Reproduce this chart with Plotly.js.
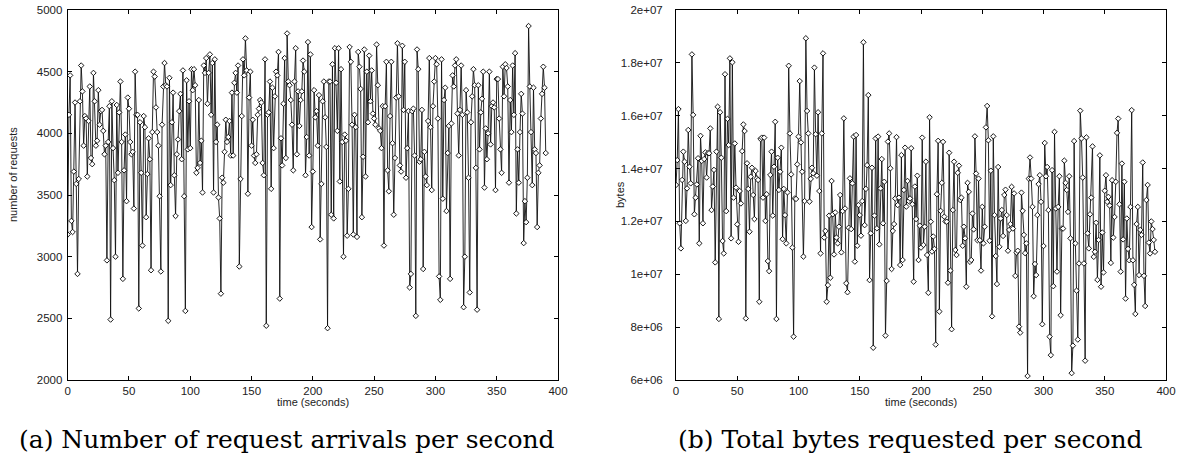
<!DOCTYPE html>
<html><head><meta charset="utf-8">
<script src="https://cdn.plot.ly/plotly-3.0.1.min.js"></script>
<style>html,body{margin:0;padding:0;background:#fff}#chart{width:1181px;height:453px}</style>
</head><body><div id="chart"></div>
<script>
// (a) number of request arrivals per second, one value per second from t = 0
const requests = [
3180,4150,4470,3290,3200,3690,4250,3590,2860,3630,
4260,4550,4340,3900,4140,4120,3650,4100,4380,3800,
3750,4490,4260,3900,3940,4350,4070,4180,4190,4020,
3830,3900,2970,3930,4220,2490,4260,3880,3620,3000,
4230,3680,4170,4420,3930,2820,3700,3990,3450,4290,
4200,3930,3830,3850,3390,4500,4150,4150,2580,4090,
3680,3090,4140,4050,3320,3670,3960,3790,2890,4010,
4500,4460,4210,4010,3900,3490,2880,4070,4380,4570,
4390,4380,2480,4450,3580,4090,4330,3660,3330,3830,
3950,4180,4320,3790,4510,3490,2560,4430,3870,4260,
3880,4520,
4350,4520,4390,3680,3720,4270,3760,3940,3520,4550,
4490,4610,4240,4490,4640,4150,4570,3520,4600,3930,
4070,3480,3310,2700,3640,3600,3850,4110,3930,3970,
4100,3820,4330,3820,4410,4490,4330,4550,2920,3630,
4140,4600,4470,4770,4510,3510,4290,4500,3900,4110,
3820,3760,3830,4150,4200,4270,4250,3760,3660,4600,
2440,4150,4170,4420,3550,4370,3880,4300,4500,4470,
4660,2660,3960,3740,4240,4610,3800,4810,4420,4390,
4270,4070,3700,4420,4690,3830,4340,4060,4270,4340,
4590,4500,3660,3970,4740,3820,4640,3240,3690,4350,
4130,
4180,3900,4310,3140,3590,4260,4420,4130,3890,2420,
4420,4420,3340,4560,3310,4690,4410,4020,4690,3610,
4520,3930,3000,3990,3940,3170,3550,4700,4580,4070,
3180,4150,4050,3160,4660,4540,4360,3320,3810,4680,
3650,4500,4090,4630,4260,4510,4160,4120,4070,4720,
4390,4040,4020,3880,4220,3090,4220,4580,3700,3530,
4140,4580,3920,3340,3800,4290,4730,4300,3740,3690,
4710,4190,4580,3640,3880,4180,2750,2860,4180,4200,
3820,2520,4680,4520,3770,3790,4190,2900,3850,3650,
3580,4100,4610,4050,3540,4220,4420,4610,4560,4120,
2840,2650,4600,3470,4270,4370,3370,3840,4060,2820,
4080,4470,4380,4550,4600,4160,3820,4190,4550,4150,
2590,3000,4350,4170,3640,2710,4090,4300,4520,4390,
3720,2570,4390,3870,4170,4280,4500,3560,4040,3790,
4000,4500,3910,4220,4250,4210,3540,4440,4440,4120,
3870,3680,4540,4300,4560,4530,4380,3600,4270,4010,
4550,4150,4650,3350,3870,3600,4010,4320,4160,3110,
3450,3280,3640,4870,4380,4010,3580,4370,3870,3840,
3240,3680,3740,4120,4320,4540,4370,3840
];

// (b) total bytes requested per second, in millions of bytes, one value per second from t = 0
const bytesMillions = [
13.38,14.32,16.25,11.93,10.98,13.57,14.64,14.26,12.02,13.25,
15.46,14.07,13.44,18.32,16.03,12.27,12.90,13.40,14.39,11.17,
15.24,14.29,11.93,14.36,14.61,13.66,14.58,14.58,15.52,12.43,
13.32,13.95,10.45,14.64,16.34,8.31,16.13,14.41,11.26,10.79,
17.57,12.39,15.88,14.89,18.17,11.36,18.02,12.90,14.95,13.28,
11.89,11.23,13.15,12.68,14.66,15.67,15.42,8.33,14.20,13.23,
11.61,13.69,14.03,13.00,12.09,13.91,13.63,13.57,8.96,15.12,
15.17,12.90,15.17,12.02,13.03,10.50,10.12,13.76,14.64,12.22,
14.07,15.77,8.31,14.41,13.19,13.88,14.79,11.33,13.23,12.24,
11.17,13.10,17.89,15.33,13.78,11.01,7.64,12.87,12.85,14.16,
15.21,17.31,14.99,
13.88,10.67,12.77,18.93,16.18,15.33,12.75,13.61,14.03,13.82,
17.82,15.30,13.73,16.13,13.15,10.79,15.33,18.36,11.39,11.64,
8.96,9.59,12.22,9.87,13.53,12.27,10.75,12.34,11.39,11.17,
11.80,13.00,10.83,12.39,15.90,12.49,9.66,9.32,11.76,13.63,
11.71,13.44,15.21,10.48,15.27,11.08,12.62,12.24,11.46,12.77,
18.78,11.86,13.23,14.13,16.78,9.78,11.55,14.03,7.22,12.22,
15.14,11.74,15.21,11.13,13.25,14.36,11.93,13.50,7.68,9.75,
15.02,15.33,14.01,10.20,11.64,11.90,12.87,15.19,12.62,12.90,
10.35,14.51,10.54,13.19,14.79,12.56,13.53,12.77,12.87,14.77,
12.65,9.72,13.32,12.09,13.73,10.54,11.84,11.01,15.17,11.11,
11.80,14.26,10.73,9.30,15.94,11.99,10.86,11.43,10.96,7.34,
13.03,15.05,8.59,12.40,13.46,15.01,12.18,12.00,11.99,9.68,
14.60,10.14,7.92,12.43,14.26,10.92,10.73,13.84,14.11,12.81,
12.90,11.08,11.80,11.36,9.53,13.46,13.12,10.47,10.54,12.30,
11.70,15.22,13.81,11.29,13.62,11.29,
10.14,12.55,11.17,11.80,15.56,16.37,15.07,11.27,13.92,8.41,
15.22,12.24,10.69,9.63,14.06,11.04,12.11,12.43,11.45,13.00,
13.20,12.24,10.89,11.68,11.90,13.31,11.73,13.06,9.94,10.82,
10.89,8.02,7.79,13.09,12.40,11.49,10.80,11.17,6.15,13.62,
14.42,13.62,12.55,9.17,10.39,9.97,12.24,13.41,13.75,12.74,
8.11,11.07,14.97,13.71,14.06,12.43,7.64,6.94,13.94,9.55,
15.39,12.49,10.10,12.55,13.71,8.45,11.73,11.73,14.30,13.46,
13.19,12.36,13.71,11.36,6.26,7.30,15.04,11.17,9.38,7.53,
10.41,16.19,15.14,13.66,10.41,6.73,15.18,11.55,10.98,12.27,
12.90,14.84,10.66,10.85,11.95,9.79,11.30,14.50,9.53,11.58,
10.07,13.16,13.75,12.74,12.93,12.60,10.43,13.56,11.39,12.17,
13.50,15.35,15.89,12.65,10.10,14.19,11.32,13.50,9.08,12.11,
10.96,10.53,12.55,16.21,10.53,9.60,8.50,11.90,12.55,9.97,
11.68,11.49,14.23,9.94,8.80,12.81,13.38,11.20,10.79,12.00,
11.71,11.30,10.85
];

const timeTicks = [0,50,100,150,200,250,300,350,400];
const requestTicks = [2000,2500,3000,3500,4000,4500,5000];
const bytesTickVals = [6e6,8e6,1e7,1.2e7,1.4e7,1.6e7,1.8e7,2e7];
const bytesTickText = ['6e+06','8e+06','1e+07','1.2e+07','1.4e+07','1.6e+07','1.8e+07','2e+07'];

const xTitle = 'time (seconds)';
const yTitleA = 'number of requests';
const yTitleB = 'bytes';
const captionA = '(a) Number of request arrivals per second';
const captionB = '(b) Total bytes requested per second';

const timesA = requests.map((_, i) => i);
const timesB = bytesMillions.map((_, i) => i);
const bytes = bytesMillions.map(v => v * 1e6);

const W = 1181, H = 453;
const fx = p => p / W;
const fy = p => 1 - p / H;

const tickFont = {family: 'Liberation Sans, Arial, sans-serif', size: 11.5, color: '#222'};
const axisBase = {
  ticks: 'inside', ticklen: 4, tickwidth: 1, tickcolor: '#000',
  showline: true, mirror: 'ticks', linecolor: '#000', linewidth: 1,
  showgrid: false, zeroline: false, tickfont: tickFont, fixedrange: true
};

const markerStyle = {symbol: 'diamond', size: 4.2, color: '#fff', line: {color: '#000', width: 0.9}};
const lineStyle = {color: '#111', width: 0.9};

const traces = [
  {x: timesA, y: requests, xaxis: 'x', yaxis: 'y', type: 'scatter', mode: 'lines+markers',
   line: lineStyle, marker: markerStyle, hoverinfo: 'skip'},
  {x: timesB, y: bytes, xaxis: 'x2', yaxis: 'y2', type: 'scatter', mode: 'lines+markers',
   line: lineStyle, marker: markerStyle, hoverinfo: 'skip'}
];

const layout = {
  width: W, height: H,
  margin: {l: 0, r: 0, t: 0, b: 0},
  paper_bgcolor: '#fff', plot_bgcolor: '#fff',
  showlegend: false,
  xaxis: Object.assign({}, axisBase, {domain: [fx(67.7), fx(558)], range: [0, 400], tickvals: timeTicks, anchor: 'y'}),
  yaxis: Object.assign({}, axisBase, {domain: [fy(380), fy(10)], range: [2000, 5000], tickvals: requestTicks, anchor: 'x', ticklabelstandoff: 2}),
  xaxis2: Object.assign({}, axisBase, {domain: [fx(676), fx(1166)], range: [0, 400], tickvals: timeTicks, anchor: 'y2'}),
  yaxis2: Object.assign({}, axisBase, {domain: [fy(380), fy(10)], range: [6e6, 2e7], tickvals: bytesTickVals, ticktext: bytesTickText, anchor: 'x2', ticklabelstandoff: 10}),
  annotations: [
    {text: xTitle, xref: 'paper', yref: 'paper', x: fx(313), y: fy(402), showarrow: false, xanchor: 'center', yanchor: 'middle',
     font: {family: 'Liberation Sans, Arial, sans-serif', size: 11, color: '#222'}},
    {text: xTitle, xref: 'paper', yref: 'paper', x: fx(921), y: fy(402), showarrow: false, xanchor: 'center', yanchor: 'middle',
     font: {family: 'Liberation Sans, Arial, sans-serif', size: 11, color: '#222'}},
    {text: yTitleA, xref: 'paper', yref: 'paper', x: fx(13), y: fy(175), showarrow: false, textangle: -90, xanchor: 'center', yanchor: 'middle',
     font: {family: 'Liberation Sans, Arial, sans-serif', size: 11, color: '#222'}},
    {text: yTitleB, xref: 'paper', yref: 'paper', x: fx(620), y: fy(195), showarrow: false, textangle: -90, xanchor: 'center', yanchor: 'middle',
     font: {family: 'Liberation Sans, Arial, sans-serif', size: 11, color: '#222'}},
    {text: captionA, xref: 'paper', yref: 'paper', x: fx(287), y: fy(439), showarrow: false, xanchor: 'center', yanchor: 'middle',
     font: {family: 'DejaVu Serif, serif', size: 25, color: '#000'}},
    {text: captionB, xref: 'paper', yref: 'paper', x: fx(910), y: fy(439), showarrow: false, xanchor: 'center', yanchor: 'middle',
     font: {family: 'DejaVu Serif, serif', size: 25, color: '#000'}}
  ]
};

Plotly.newPlot('chart', traces, layout, {displayModeBar: false, staticPlot: true});
</script>
</body></html>
